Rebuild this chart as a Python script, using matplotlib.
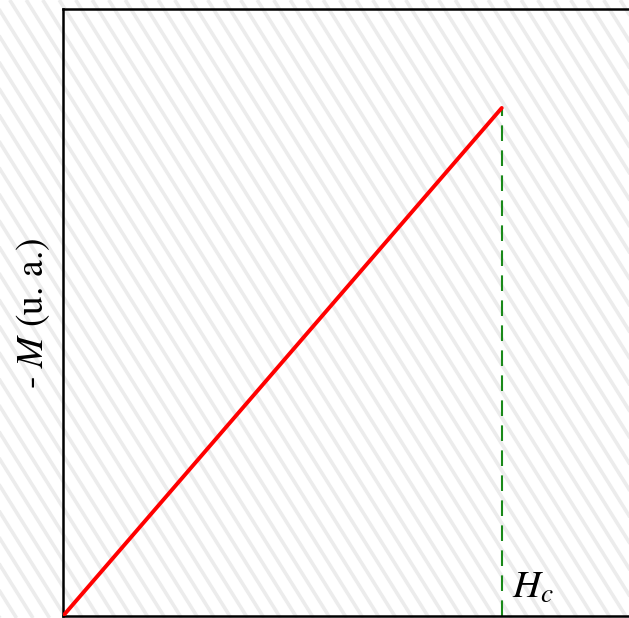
import matplotlib
matplotlib.use("Agg")
import matplotlib.pyplot as plt
from matplotlib.lines import Line2D
import numpy as np

plt.rcParams["mathtext.fontset"] = "stix"

# Magnetization curve up to the critical field
field = [0.0, 0.75]
magnetization = [0.0, 0.837]
critical_field = 0.75
critical_label = r"$H_c$"
y_label = r"- $M$ (u. a.)"

W, H = 629, 618
fig = plt.figure(figsize=(W / 100, H / 100), dpi=100)
fig.patch.set_facecolor("white")

# Light diagonal background stripes
slope = 1.6
spacing = 16.5
for x0 in np.arange(-H / slope - spacing, W + spacing, spacing):
    xs = [x0 / W, (x0 + H / slope) / W]
    ys = [1.0, 0.0]
    fig.add_artist(Line2D(xs, ys, transform=fig.transFigure, color="#ececec",
                          lw=2.6, zorder=0, solid_capstyle="butt"))

left_px, right_px, top_px, bottom_px = 63, 648, 9, 616
ax = fig.add_axes([left_px / W, (H - bottom_px) / H,
                   (right_px - left_px) / W, (bottom_px - top_px) / H])
ax.patch.set_alpha(0)
ax.set_xlim(0, 1)
ax.set_ylim(0, 1)

ax.plot(field, magnetization, color="#ff0000", lw=2.8, solid_capstyle="round", zorder=3)
ax.plot([critical_field, critical_field], [0, magnetization[-1]], color="#1a8a1a",
        lw=1.5, dashes=(7.5, 4.5), zorder=2)
ax.text(critical_field + 0.017, 0.045, critical_label, fontsize=28,
        family="STIXGeneral", ha="left", va="center")

ax.set_xticks([])
ax.set_yticks([])
for s in ax.spines.values():
    s.set_linewidth(1.8)
    s.set_color("black")

fig.text(33 / W, 1 - 313 / H, y_label, rotation=90, fontsize=27,
         family="STIXGeneral", ha="center", va="center")

fig.savefig("out.png", dpi=100)
